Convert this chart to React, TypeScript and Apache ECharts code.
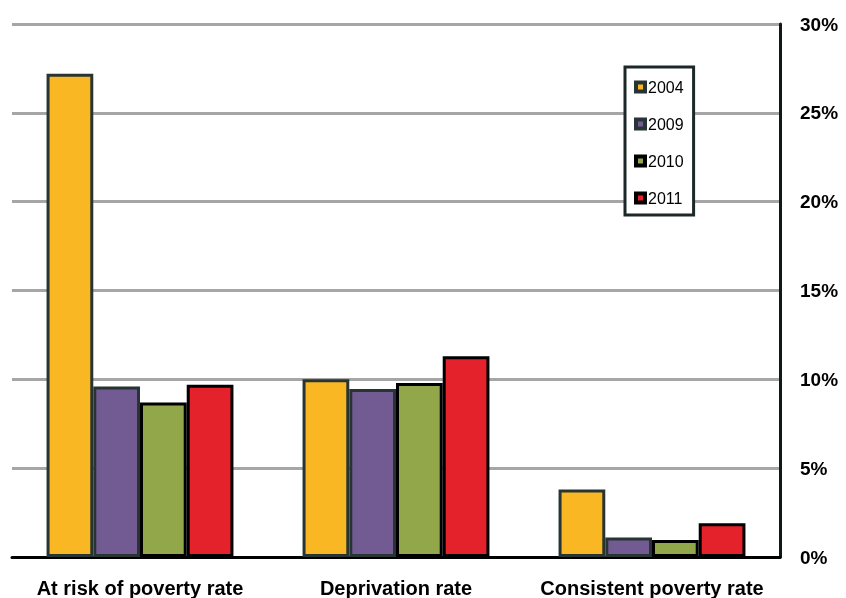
import React, { useEffect, useRef } from "react";
import * as echarts from "echarts";

const categories = ["At risk of poverty rate", "Deprivation rate", "Consistent poverty rate"];
const seriesNames = ["2004", "2009", "2010", "2011"];
const values2004 = [27.2, 10.0, 3.8];
const values2009 = [9.6, 9.45, 1.1];
const values2010 = [8.7, 9.8, 0.95];
const values2011 = [9.7, 11.3, 1.9];
const colors = ["#f9b823", "#715b92", "#92a74a", "#e3222b"];
const borders = ["#283434", "#283434", "#000000", "#000000"];

export default function App() {
  const ref = useRef<HTMLDivElement>(null);
  useEffect(() => {
    if (!ref.current) return;
    const chart = echarts.init(ref.current, undefined, { renderer: "svg" });
    const data = [values2004, values2009, values2010, values2011];
    const font = "'Liberation Sans', Arial, sans-serif";
    chart.setOption({
      animation: false,
      textStyle: { fontFamily: font },
      grid: { left: 12, right: 66, top: 24, bottom: 41, containLabel: false },
      legend: {
        orient: "vertical",
        left: 625,
        top: 67,
        padding: [12, 10, 9, 9],
        itemGap: 21,
        itemWidth: 9,
        itemHeight: 9,
        icon: "rect",
        itemStyle: { borderWidth: 4 },
        borderColor: "#1c2828",
        borderWidth: 3,
        backgroundColor: "#ffffff",
        textStyle: { fontFamily: font, fontSize: 16, color: "#000", padding: [0, 0, 0, -2] },
        data: seriesNames,
      },
      xAxis: {
        type: "category",
        data: categories,
        axisLine: { show: true, lineStyle: { color: "#000", width: 3 } },
        axisTick: { show: false },
        axisLabel: { interval: 0, fontFamily: font, fontWeight: "bold", fontSize: 20, color: "#000", margin: 21 },
      },
      yAxis: {
        type: "value",
        position: "right",
        min: 0,
        max: 30,
        interval: 5,
        axisLine: { show: true, lineStyle: { color: "#101818", width: 3 } },
        axisTick: { show: false },
        splitLine: { show: true, lineStyle: { color: "#a6a6a6", width: 3 } },
        axisLabel: { formatter: "{value}%", fontFamily: font, fontWeight: "bold", fontSize: 19, color: "#000", margin: 20 },
      },
      series: seriesNames.map((n, i) => ({
        name: n,
        type: "bar",
        data: data[i],
        barGap: "0%",
        barCategoryGap: "27%",
        itemStyle: { color: colors[i], borderColor: borders[i], borderWidth: 3 },
      })),
    });
    return () => chart.dispose();
  }, []);
  return <div ref={ref} style={{ position: "fixed", left: 0, top: 0, width: 846, height: 598 }} />;
}
